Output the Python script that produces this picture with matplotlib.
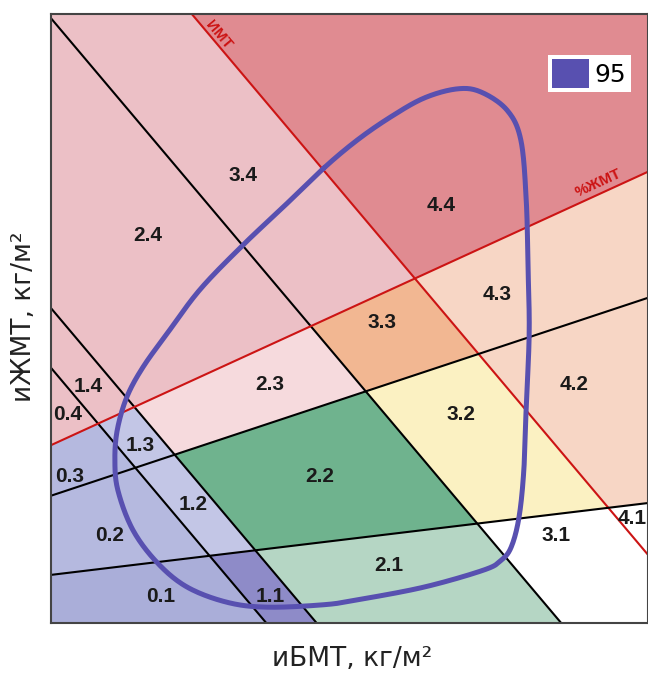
import numpy as np
import matplotlib
matplotlib.use("Agg")
import matplotlib.pyplot as plt
from matplotlib.patches import Polygon, Patch

# ---------------- data (diagram units 0..100 on both axes) ----------------
# descending boundaries: Y + desc_slope * X = cut  (last one is the red ИМТ line)
desc_slope = 1.162
desc_cuts = [41.9, 51.7, 99.3, 127.4]
desc_colors = ["black", "black", "black", "#cc1414"]

# ascending boundaries: value at X=0 and at X=100 (last one is the red %ЖМТ line)
asc_left = [7.9, 20.9, 29.2]
asc_right = [19.7, 53.4, 74.1]
asc_colors = ["black", "black", "#cc1414"]

cell_codes = ["0.1", "0.2", "0.3", "0.4",
              "1.1", "1.2", "1.3", "1.4",
              "2.1", "2.2", "2.3", "2.4",
              "3.1", "3.2", "3.3", "3.4",
              "4.1", "4.2", "4.3", "4.4"]
cell_colors = ["#aaaed9", "#b5b9df", "#b5b9df", "#ecc0c6",
               "#8e8bc8", "#c3c6e6", "#c3c6e6", "#ecc0c6",
               "#b5d6c4", "#6fb38e", "#f6dadd", "#ecc0c6",
               "#ffffff", "#fbf1c2", "#f2b792", "#ecc0c6",
               "#ffffff", "#f7d6c5", "#f7d6c5", "#e08b91"]

label_x = [18.3, 9.9, 3.2, 2.8,
           36.7, 23.8, 14.9, 6.2,
           56.6, 45.1, 36.7, 16.2,
           84.6, 68.7, 55.4, 32.2,
           97.4, 87.6, 74.7, 65.3]
label_y = [4.3, 14.4, 24.1, 34.3,
           4.3, 19.4, 29.1, 38.9,
           9.5, 24.1, 39.1, 63.7,
           14.4, 34.2, 49.3, 73.4,
           17.2, 39.1, 53.9, 68.6]

# 95 % contour
contour_x = [45.7, 51.3, 56.9, 62.5, 68.0, 72.0, 76.4, 78.7, 79.6, 79.9,
             80.1, 79.6, 79.2, 78.4, 77.1, 75.4, 72.5, 62.5, 51.3, 45.7,
             36.2, 29.5, 22.8, 17.8, 13.7, 11.2, 10.7, 11.1, 12.7, 15.4,
             19.5, 25.0, 32.2, 38.9]
contour_y = [74.7, 79.3, 83.1, 86.2, 87.7, 87.2, 84.2, 79.3, 69.5, 58.5,
             47.6, 35.5, 25.1, 17.4, 12.5, 10.3, 8.7, 5.9, 3.8, 3.0,
             2.6, 3.4, 5.9, 9.9, 15.3, 21.8, 26.8, 31.7, 37.1, 42.0,
             47.6, 54.8, 62.1, 68.3]
contour_label = "95"

xlabel = "иБМТ, кг/м²"
ylabel = "иЖМТ, кг/м²"

# ---------------- helpers ----------------
def clip(poly, a, b, c):
    """keep part of convex polygon with a*x + b*y <= c"""
    out = []
    n = len(poly)
    for k in range(n):
        p = poly[k]
        q = poly[(k + 1) % n]
        fp = a * p[0] + b * p[1] - c
        fq = a * q[0] + b * q[1] - c
        if fp <= 0:
            out.append(p)
        if fp * fq < 0:
            t = fp / (fp - fq)
            out.append((p[0] + t * (q[0] - p[0]), p[1] + t * (q[1] - p[1])))
    return out


def catmull_rom_closed(x, y, n=20):
    pts = np.column_stack([x, y])
    N = len(pts)
    res = []
    for i in range(N):
        p0, p1, p2, p3 = pts[(i - 1) % N], pts[i], pts[(i + 1) % N], pts[(i + 2) % N]
        t = np.linspace(0, 1, n, endpoint=False)[:, None]
        seg = 0.5 * ((2 * p1) + (-p0 + p2) * t + (2 * p0 - 5 * p1 + 4 * p2 - p3) * t ** 2
                     + (-p0 + 3 * p1 - 3 * p2 + p3) * t ** 3)
        res.append(seg)
    res = np.vstack(res + [res[0][:1]])
    return res[:, 0], res[:, 1]


# ---------------- figure ----------------
fig = plt.figure(figsize=(6.48, 6.75), dpi=100)
ax = fig.add_axes([51 / 648, 52 / 675, 597 / 648, 609 / 675])
ax.set_xlim(0, 100)
ax.set_ylim(0, 100)

box = [(0, 0), (100, 0), (100, 100), (0, 100)]
for idx, code in enumerate(cell_codes):
    i = int(code[0])
    j = int(code[2]) - 1
    poly = list(box)
    if i > 0:
        poly = clip(poly, -desc_slope, -1, -desc_cuts[i - 1])
    if i < len(desc_cuts):
        poly = clip(poly, desc_slope, 1, desc_cuts[i])
    if j > 0:
        m = (asc_right[j - 1] - asc_left[j - 1]) / 100.0
        poly = clip(poly, m, -1, -asc_left[j - 1])
    if j < len(asc_left):
        m = (asc_right[j] - asc_left[j]) / 100.0
        poly = clip(poly, -m, 1, asc_left[j])
    if len(poly) >= 3:
        ax.add_patch(Polygon(poly, closed=True, facecolor=cell_colors[idx],
                             edgecolor="none", zorder=1))

for c, col in zip(desc_cuts, desc_colors):
    ax.axline((0, c), slope=-desc_slope, color=col, lw=1.5, zorder=3)
for yl, yr, col in zip(asc_left, asc_right, asc_colors):
    ax.axline((0, yl), (100, yr), color=col, lw=1.5, zorder=3)

lab_font = dict(family=["Liberation Sans", "DejaVu Sans"], weight="bold", size=15)
for code, lx, ly in zip(cell_codes, label_x, label_y):
    ax.text(lx, ly, code, ha="center", va="center", zorder=5, color="#1a1a1a", **lab_font)

red_font = dict(family=["Liberation Sans", "DejaVu Sans"], weight="bold", size=11)
ax.text(28.0, 96.5, "ИМТ", rotation=-50, color="#cc1414",
        ha="center", va="center", zorder=5, **red_font)
ax.text(91.6, 72.2, "%ЖМТ", rotation=24.6, color="#cc1414",
        ha="center", va="center", zorder=5, **red_font)

cx, cy = catmull_rom_closed(contour_x, contour_y)
ax.plot(cx, cy, color="#5850b0", lw=3.6, zorder=4, solid_capstyle="round")

leg = ax.legend(handles=[Patch(facecolor="#5850b0", edgecolor="none", label=contour_label)],
                loc="upper right", bbox_to_anchor=(0.9715, 0.9327), fontsize=18,
                frameon=True, fancybox=False, handlelength=1.45, handleheight=1.35,
                handletextpad=0.25, borderpad=0.18, borderaxespad=0)
leg.get_frame().set_facecolor("white")
leg.get_frame().set_edgecolor("none")
leg.get_frame().set_alpha(1)
leg.set_zorder(6)

ax.set_xticks([])
ax.set_yticks([])
for sp in ax.spines.values():
    sp.set_color("#444444")
    sp.set_linewidth(1.5)
    sp.set_zorder(7)

fig.text(352 / 648, 1 - 659 / 675, xlabel, ha="center", va="center", fontsize=19, color="#222222")
fig.text(24 / 648, 1 - 317 / 675, ylabel, ha="center", va="center", rotation=90, fontsize=19,
         color="#222222")

fig.savefig("out.png", dpi=100)
